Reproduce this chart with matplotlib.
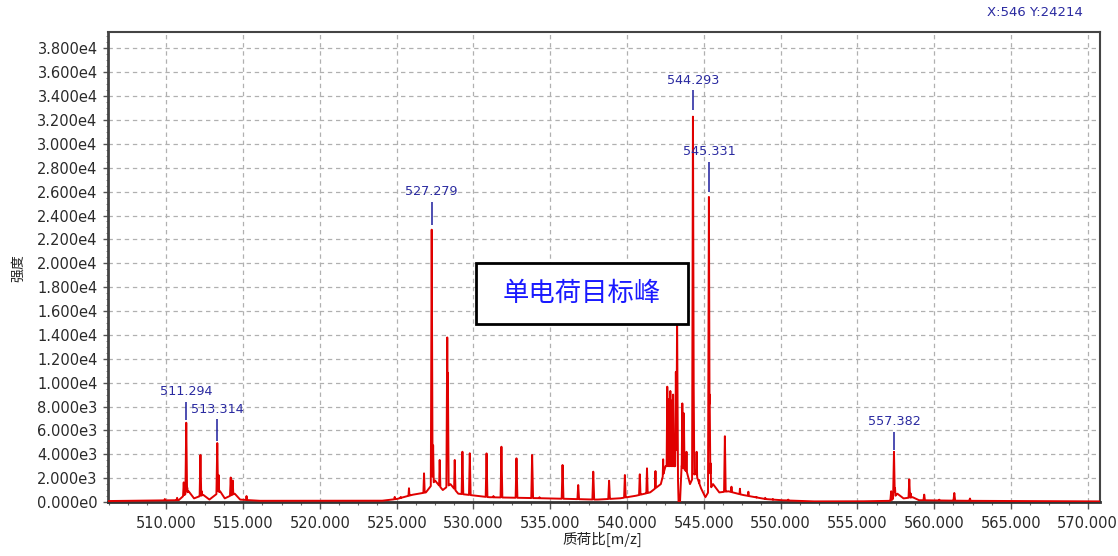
import numpy as np
import matplotlib
matplotlib.use('Agg')
import matplotlib.pyplot as plt
from matplotlib.patches import Rectangle
from matplotlib.ticker import MultipleLocator, FuncFormatter

plt.rcParams['font.family'] = ['DejaVu Sans', 'Noto Sans CJK SC']

# ---------------- data ----------------
peak_mz = [509.9, 510.7, 511.13, 511.294, 511.36, 512.22, 512.3, 513.314, 513.40,
           514.19, 514.32, 515.22,
           524.87, 525.26, 525.8, 526.2, 526.78, 527.279, 527.37, 527.8, 528.29, 528.33,
           528.78, 529.28, 529.76, 530.26, 530.85, 531.3, 531.82, 532.8, 533.82, 534.3,
           535.8, 536.82, 537.8, 538.83, 539.86, 540.83, 541.3, 541.85, 542.35,
           542.62, 542.72, 542.82, 542.92, 543.0, 543.18, 543.26, 543.6, 543.7, 543.87,
           544.27, 544.293, 544.33, 544.53, 544.7, 545.331, 545.38, 545.44, 545.72,
           546.37, 546.8, 547.35, 547.9, 548.43, 549.0, 549.5, 550.5,
           557.2, 557.382, 557.45, 558.38, 558.48, 559.35, 560.33, 561.31, 562.33]
peak_int = [250, 350, 1700, 6870, 1200, 3940, 900, 5110, 2260,
            2120, 1800, 500,
            440, 420, 1150, 500, 2400, 23200, 4910, 3520, 14260, 11200,
            3520, 4210, 4080, 450, 4210, 500, 4630, 3660, 3940, 400,
            3100, 1420, 2540, 1840, 2260, 2400, 2820, 2680, 3700,
            9660, 8600, 9300, 8500, 9000, 10900, 15500, 8260, 7430, 4350,
            2960, 32830, 11900, 4350, 1840, 25990, 9000, 3240, 1150,
            5700, 1280, 1150, 860, 440, 350, 250, 200,
            900, 4350, 1200, 1900, 700, 640, 200, 780, 300]

base_mz = [506.2, 510.8, 511.45, 511.8, 512.4, 512.8, 513.5, 513.8, 514.45, 514.8, 516.0,
           524.0, 525.0, 526.0, 526.9, 527.5, 528.0, 528.5, 529.0, 531.0, 535.0, 538.0,
           539.5, 540.5, 541.5, 542.2, 542.5, 543.3, 543.35, 543.45, 543.55, 543.9,
           544.1, 544.45, 544.8, 545.1, 545.6, 546.0, 546.6, 547.5, 549.0, 550.0,
           552.0, 555.0, 557.2, 557.6, 558.0, 558.6, 559.0, 562.0, 570.8]
base_int = [80, 150, 900, 300, 600, 200, 900, 300, 700, 200, 100,
            100, 250, 600, 800, 1800, 1000, 1500, 700, 400, 300, 200,
            300, 500, 800, 1500, 3000, 3000, 0, 0, 3000, 2500,
            1500, 2500, 1200, 400, 1500, 800, 900, 600, 250, 150,
            50, 50, 100, 700, 300, 400, 150, 100, 50]

label_mz = [511.294, 513.314, 527.279, 544.293, 545.331, 557.382]
label_top = [8400, 6950, 25150, 34500, 28500, 5890]
label_text = ['511.294', '513.314', '527.279', '544.293', '545.331', '557.382']

x_ticks = [510, 515, 520, 525, 530, 535, 540, 545, 550, 555, 560, 565, 570]
y_ticks = [0, 2000, 4000, 6000, 8000, 10000, 12000, 14000, 16000, 18000,
           20000, 22000, 24000, 26000, 28000, 30000, 32000, 34000, 36000, 38000]

# ---------------- build profile from centroid list ----------------
grid = np.arange(506.2, 570.8, 0.004)
prof = np.interp(grid, base_mz, base_int)
hw = 0.06
for m, h in zip(peak_mz, peak_int):
    tri = np.interp(grid, [m - hw, m, m + hw], [0, h, 0], left=0, right=0)
    prof = np.maximum(prof, tri)

# ---------------- figure ----------------
W, H = 1118, 556
fig = plt.figure(figsize=(W / 100, H / 100), dpi=100)
L, R, T, B = 108, 1100, 31.7, 502
ax = fig.add_axes([L / W, 1 - B / H, (R - L) / W, (B - T) / H])

ax.set_xlim(506.2, 570.8)
ax.set_ylim(0, 39400)

ax.grid(True, which='major', color='#b0b0b0', linestyle=(0, (3.5, 3)), linewidth=0.9)
ax.set_axisbelow(True)

blue = '#2a2aa0'
label_red = [peak_int[peak_mz.index(m)] for m in label_mz]
ax.vlines(label_mz, label_red, label_top, color='#1c1c9c', linewidth=1.1, zorder=3)
ax.plot(grid, prof, color='#e00000', linewidth=1.4, zorder=4)

for m, t, s in zip(label_mz, label_top, label_text):
    ax.annotate(s, xy=(m, t), xytext=(0, 2.5), textcoords='offset points',
                ha='center', va='bottom', fontsize=9.2, color=blue, zorder=5)

ax.set_xticks(x_ticks)
ax.set_xticklabels([f"{v:.3f}" for v in x_ticks])
ax.xaxis.set_minor_locator(MultipleLocator(1.25))
ax.set_yticks(y_ticks)


def yfmt(v, pos):
    if v == 0:
        return "0.000e0"
    e = int(np.floor(np.log10(abs(v))))
    return f"{v / 10 ** e:.3f}e{e}"


ax.yaxis.set_major_formatter(FuncFormatter(yfmt))
ax.yaxis.set_minor_locator(MultipleLocator(500))

ax.tick_params(axis='x', which='major', direction='out', length=5, width=1,
               color='#555555', labelsize=10.5, labelcolor='#2a2a2a', pad=5)
ax.tick_params(axis='x', which='minor', direction='out', length=2.5, width=0.8,
               color='#666666')
ax.tick_params(axis='y', which='major', direction='out', length=3.5, width=1,
               color='#555555', labelsize=10.5, labelcolor='#2a2a2a', pad=4)
ax.tick_params(axis='y', which='minor', direction='out', length=1.5, width=0.6,
               color='#777777')

for sp in ax.spines.values():
    sp.set_color('#444444')
    sp.set_linewidth(1.5)
ax.spines['bottom'].set_linewidth(2)
ax.spines['bottom'].set_color('#333333')
ax.spines['left'].set_linewidth(2)

# annotation box
box = Rectangle(((476 - L) / (R - L), (B - 324) / (B - T)),
                (688.3 - 476) / (R - L), (324 - 262.7) / (B - T),
                transform=ax.transAxes, facecolor='white', edgecolor='black',
                linewidth=2, zorder=6)
ax.add_patch(box)
ax.text(((476 + 688.3) / 2 - L) / (R - L), (B - 293.5) / (B - T), '单电荷目标峰',
        transform=ax.transAxes, ha='center', va='center', fontsize=19,
        color='#1a1aff', family=['Noto Sans CJK SC', 'DejaVu Sans'], zorder=7)

fig.text(18 / W, 1 - 268 / H, '强度', rotation=90, ha='center', va='center',
         fontsize=10, color='#222222', family=['Noto Sans CJK SC', 'DejaVu Sans'])
fig.text(602 / W, 1 - 539 / H, '质荷比[m/z]', ha='center', va='center',
         fontsize=10.5, color='#222222', family=['Noto Sans CJK SC', 'DejaVu Sans'])
fig.text(1035 / W, 1 - 13 / H, 'X:546 Y:24214', ha='center', va='center',
         fontsize=9.5, color=blue)

fig.savefig('out.png', dpi=100)
